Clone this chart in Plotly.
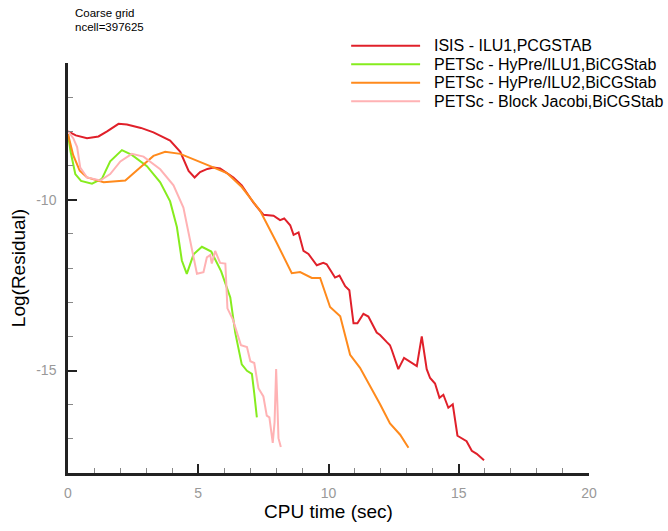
import plotly.graph_objects as go

# Convergence history: CPU time (sec) vs log10 of the residual
series_names = [
    "ISIS - ILU1,PCGSTAB",
    "PETSc - HyPre/ILU1,BiCGStab",
    "PETSc - HyPre/ILU2,BiCGStab",
    "PETSc - Block Jacobi,BiCGStab",
]
series_colors = ["#e0202a", "#86ec1e", "#ff8a1c", "#ffb2b4"]

isis_t = [0.0, 0.3, 0.73, 1.17, 1.5, 1.94, 2.26, 2.8, 3.28, 3.92, 4.31, 4.63, 4.86, 5.07,
          5.35, 5.59, 5.84, 6.35, 6.67, 7.12, 7.5, 7.89, 8.14, 8.3, 8.53, 8.66, 8.85, 9.04,
          9.23, 9.55, 9.8, 9.93, 10.25, 10.42, 10.64, 10.8, 10.96, 11.11, 11.34, 11.53,
          11.85, 11.98, 12.24, 12.36, 12.43, 12.68, 12.9, 13.39, 13.58, 13.77, 13.9, 14.09,
          14.26, 14.41, 14.6, 14.77, 14.95, 15.3, 15.5, 15.69, 15.97]
isis_r = [-8.0, -8.12, -8.2, -8.15, -8.0, -7.78, -7.8, -7.9, -8.03, -8.27, -8.6, -9.16,
          -9.35, -9.19, -9.1, -9.06, -9.09, -9.35, -9.58, -10.09, -10.44, -10.47, -10.6,
          -10.55, -10.75, -11.03, -10.96, -11.5, -11.59, -11.92, -11.85, -11.89, -12.28,
          -12.22, -12.53, -12.65, -13.62, -13.62, -13.34, -13.42, -13.89, -13.96, -14.17,
          -14.26, -14.4, -14.96, -14.63, -14.87, -14.0, -14.96, -15.22, -15.38, -15.8,
          -15.71, -16.09, -15.99, -16.91, -17.07, -17.35, -17.44, -17.63]

ilu1_t = [0.0, 0.1, 0.28, 0.5, 0.92, 1.3, 1.62, 2.07, 2.45, 3.03, 3.54, 3.92, 4.18, 4.37,
          4.56, 4.82, 5.14, 5.5, 5.88, 6.23, 6.42, 6.67, 6.87, 7.06, 7.15, 7.25]
ilu1_r = [-8.1, -8.6, -9.25, -9.45, -9.53, -9.39, -8.88, -8.55, -8.69, -9.02, -9.49,
          -10.05, -10.8, -11.78, -12.17, -11.6, -11.38, -11.52, -12.1, -12.86, -13.89,
          -14.82, -15.01, -15.1, -15.67, -16.37]

ilu2_t = [0.0, 0.2, 0.45, 0.73, 1.37, 2.2, 2.77, 3.28, 3.73, 4.31, 5.46, 6.1, 6.67, 7.38,
          8.01, 8.59, 8.91, 9.36, 9.68, 10.06, 10.45, 10.83, 11.21, 11.6, 11.98, 12.36,
          12.75, 13.07]
ilu2_r = [-8.08, -8.7, -9.15, -9.35, -9.49, -9.44, -9.06, -8.72, -8.6, -8.66, -9.02,
          -9.22, -9.63, -10.33, -11.26, -12.15, -12.12, -12.29, -12.29, -13.14, -13.41,
          -14.54, -14.92, -15.45, -15.99, -16.55, -16.88, -17.26]

bj_t = [0.0, 0.2, 0.35, 0.47, 0.73, 1.24, 1.62, 2.01, 2.45, 2.9, 3.54, 4.05, 4.43, 4.69,
        4.95, 5.2, 5.33, 5.46, 5.52, 5.65, 5.78, 5.84, 6.04, 6.12, 6.33, 6.48, 6.64, 6.87,
        7.0, 7.15, 7.31, 7.5, 7.63, 7.73, 7.86, 7.93, 7.99, 8.04, 8.08, 8.17]
bj_r = [-7.99, -8.2, -8.46, -9.06, -9.35, -9.44, -9.25, -8.88, -8.66, -8.74, -9.11, -9.58,
        -10.23, -11.17, -12.17, -12.12, -11.69, -11.62, -11.87, -11.5, -11.78, -11.85,
        -11.87, -13.18, -13.51, -13.89, -14.26, -14.31, -14.73, -14.78, -15.52, -15.76,
        -16.32, -16.37, -17.12, -16.51, -14.96, -16.04, -16.98, -17.24]

x_ticks = [0, 5, 10, 15, 20]
y_ticks = [-15, -10]
y_tick_text = ["-15", "-10"]

FONT = "Liberation Sans, Arial, Helvetica, sans-serif"
AXIS_COLOR = "#222"

fig = go.Figure()
for name, color, t, r in zip(series_names, series_colors,
                             [isis_t, ilu1_t, ilu2_t, bj_t],
                             [isis_r, ilu1_r, ilu2_r, bj_r]):
    fig.add_trace(go.Scatter(x=t, y=r, mode="lines", name=name,
                             line=dict(color=color, width=2), showlegend=False))

# Legend drawn by hand so the line samples can be long
row_y = [1.042, 0.997, 0.952, 0.907]
for name, color, yy in zip(series_names, series_colors, row_y):
    fig.add_shape(type="line", xref="paper", yref="paper", x0=0.5435, x1=0.6758,
                  y0=yy, y1=yy, line=dict(color=color, width=2))
    fig.add_annotation(xref="paper", yref="paper", x=0.699, y=yy, text=name,
                       showarrow=False, xanchor="left", yanchor="middle",
                       font=dict(family=FONT, size=16, color="#000"))

# Case description in the top-left corner
fig.add_annotation(xref="paper", yref="paper", x=0.011, y=1.1215, text="Coarse grid",
                   showarrow=False, xanchor="left", yanchor="middle", borderpad=0,
                   font=dict(family=FONT, size=11.5, color="#000"))
fig.add_annotation(xref="paper", yref="paper", x=0.011, y=1.0885, text="ncell=397625",
                   showarrow=False, xanchor="left", yanchor="middle", borderpad=0,
                   font=dict(family=FONT, size=11.5, color="#000"))

fig.update_xaxes(range=[0, 20], tickvals=x_ticks, ticks="inside", ticklen=9,
                 tickwidth=2, tickcolor=AXIS_COLOR, showline=True, linewidth=2.5,
                 linecolor=AXIS_COLOR, showgrid=False, zeroline=False,
                 ticklabelstandoff=5,
                 tickfont=dict(family=FONT, size=14, color="#999"),
                 minor=dict(dtick=1, ticks="inside", ticklen=5, tickwidth=1,
                            tickcolor="#888", showgrid=False),
                 title=dict(text="CPU time (sec)", standoff=5,
                            font=dict(family=FONT, size=19, color="#000")))
fig.update_yaxes(range=[-18, -6], tickvals=y_ticks, ticktext=y_tick_text,
                 ticks="inside", ticklen=9, tickwidth=2, tickcolor=AXIS_COLOR,
                 showline=True, linewidth=2.5, linecolor=AXIS_COLOR, showgrid=False,
                 zeroline=False, ticklabelstandoff=6,
                 tickfont=dict(family=FONT, size=14, color="#999"),
                 minor=dict(tickvals=list(range(-18, -5)), ticks="inside", ticklen=5,
                            tickwidth=1, tickcolor="#888", showgrid=False),
                 title=dict(text="Log(Residual)", standoff=6,
                            font=dict(family=FONT, size=19, color="#000")))

fig.update_layout(width=668, height=531, plot_bgcolor="white", paper_bgcolor="white",
                  margin=dict(l=68, r=79, t=63, b=42), showlegend=False)

fig.write_html("out.html")
